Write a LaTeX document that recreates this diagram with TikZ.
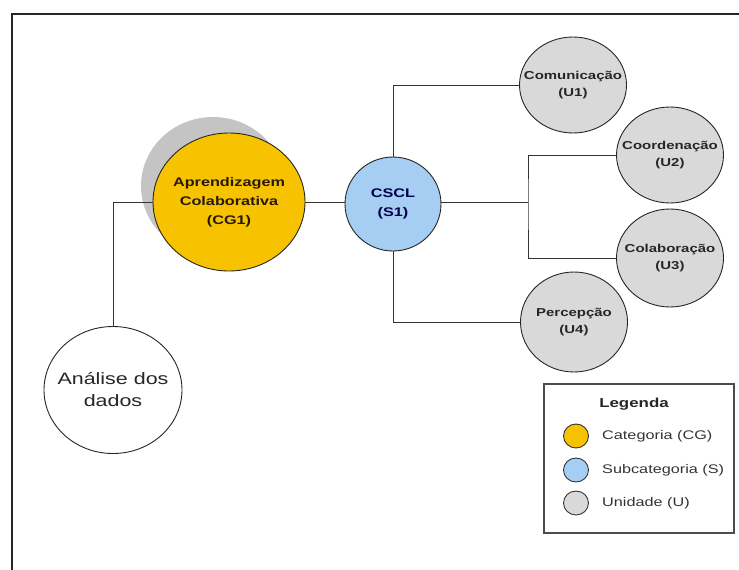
\documentclass[tikz,border=0pt]{standalone}
\usepackage{fontspec}
\setmainfont{Liberation Sans}[FakeStretch=1.3]
\usetikzlibrary{shapes.geometric}
\definecolor{cgyel}{HTML}{F7C300}
\definecolor{sblue}{HTML}{A6CDF2}
\definecolor{ugray}{HTML}{D9D9D9}
\definecolor{shad}{HTML}{C4C4C4}
\definecolor{linec}{HTML}{333333}
\begin{document}
\begin{tikzpicture}[x=1pt,y=-1pt,
  ell/.style={ellipse,draw=black!85,line width=0.9pt,inner sep=0pt},
  intext/.style={label={[align=center,inner sep=0pt,#1]center:}},
  unitfont/.style={font=\fontsize{11.5}{17}\selectfont\bfseries,text=black!85},
  unit/.style={ell,fill=ugray,minimum width=107pt,minimum height=96pt},
  conn/.style={draw=linec,line width=1pt},
  legc/.style={ellipse,draw=black!80,line width=0.9pt,minimum width=25pt,minimum height=24pt,inner sep=0pt},
  legt/.style={anchor=west,font=\fontsize{12.5}{14}\selectfont,text=black!80,inner sep=0pt}]
\useasboundingbox (0,0) rectangle (739,570);
% frame
\draw[line width=2pt,black!85] (12,570) -- (12,14) -- (739,14);
% shadow
\fill[shad] (213,186) ellipse (72pt and 69pt);
% nodes
\node[ell,fill=cgyel,minimum width=152pt,minimum height=138pt,
  label={[align=center,inner sep=0pt,font=\fontsize{12.5}{19}\selectfont\bfseries,text=black!80!brown]center:Aprendizagem\\Colaborativa\\(CG1)}] (cg) at (229,202) {};
\node[ell,fill=white,minimum width=138pt,minimum height=127pt,
  label={[align=center,inner sep=0pt,font=\fontsize{16.5}{22}\selectfont,text=black!85]center:Análise dos\\dados}] (an) at (113,390) {};
\node[ell,fill=sblue,minimum width=96pt,minimum height=94pt,
  label={[align=center,inner sep=0pt,font=\fontsize{12.5}{19}\selectfont\bfseries,text=black!70!blue]center:CSCL\\(S1)}] (cs) at (393,204) {};
\node[unit,label={[align=center,inner sep=0pt,unitfont]center:Comunicação\\(U1)}] (u1) at (573,85) {};
\node[unit,label={[align=center,inner sep=0pt,unitfont]center:Coordenação\\(U2)}] (u2) at (670,155) {};
\node[unit,minimum height=98pt,label={[align=center,inner sep=0pt,unitfont]center:Colaboração\\(U3)}] (u3) at (670,258) {};
\node[unit,minimum height=100pt,label={[align=center,inner sep=0pt,unitfont]center:Percepção\\(U4)}] (u4) at (574,322) {};
% connectors
\draw[conn] (cg.west) -| (an.north);
\draw[conn] (cg.east) -- (cg.east -| cs.west);
\draw[conn] (cs.north) |- (u1.west);
\draw[conn] (cs.south) |- (u4.west);
\coordinate (j) at (528,202);
\draw[conn] (cs.east |- j) -- (j);
\draw[conn] (u2.west) -| (j) |- (u3.west);
% legend
\node[draw=black!70,line width=1.3pt,minimum width=190pt,minimum height=149pt,inner sep=0pt] (leg) at (639,458.5) {};
\node[font=\fontsize{13}{15}\selectfont\bfseries,text=black!85] (legtitle) at (634,404) {Legenda};
\node[legc,fill=cgyel] (l1) at (576,436) {};
\node[legc,fill=sblue] (l2) at (576,470) {};
\node[legc,fill=ugray] (l3) at (576,503) {};
\node[legt] (t1) at (602,436) {Categoria (CG)};
\node[legt] (t2) at (602,470) {Subcategoria (S)};
\node[legt] (t3) at (602,503) {Unidade (U)};
\end{tikzpicture}
\end{document}
